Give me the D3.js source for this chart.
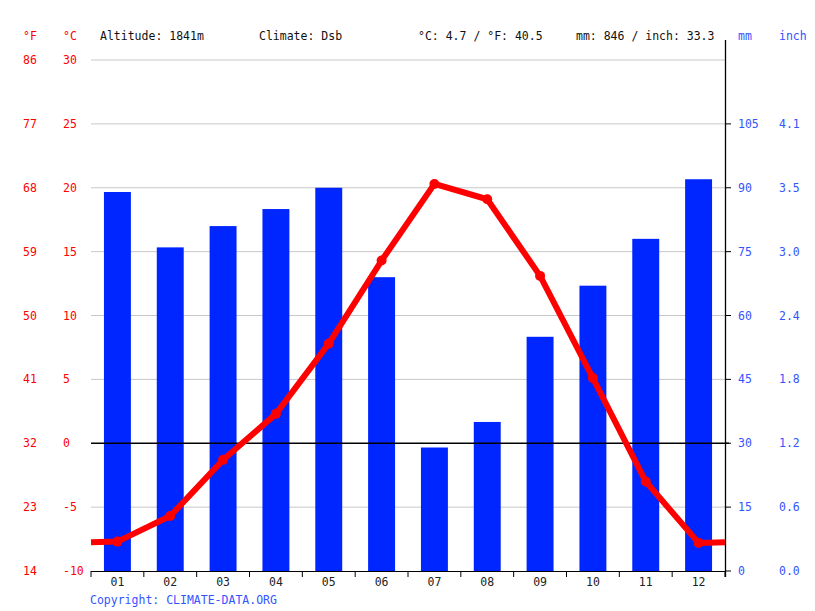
<!DOCTYPE html>
<html>
<head>
<meta charset="utf-8">
<script src="https://cdn.jsdelivr.net/npm/d3@7"></script>
<style>
  body { margin: 0; background: #fff; }
  text { font-family: "DejaVu Sans Mono", monospace; font-size: 11.5px; }
</style>
</head>
<body>
<div id="chart"></div>
<script>
// values
var months = ["01","02","03","04","05","06","07","08","09","10","11","12"];
var precip = [89, 76, 81, 85, 90, 69, 29, 35, 55, 67, 78, 92];          // mm
var temp = [-7.7, -5.7, -1.3, 2.3, 7.8, 14.3, 20.3, 19.1, 13.1, 5.1, -3.0, -7.8]; // °C
var edgeTemp = -7.75; // line runs out to both edges (Dec -> Jan)

var cTicks = [-10, -5, 0, 5, 10, 15, 20, 25, 30];
var fLabels = ["14","23","32","41","50","59","68","77","86"];
var mmTicks = [0, 15, 30, 45, 60, 75, 90, 105];
var inchLabels = ["0.0","0.6","1.2","1.8","2.4","3.0","3.5","4.1"];

var header = [
  {t: "Altitude: 1841m", x: 100},
  {t: "Climate: Dsb", x: 259},
  {t: "°C: 4.7 / °F: 40.5", x: 418},
  {t: "mm: 846 / inch: 33.3", x: 576}
];

var W = 815, H = 611;
var pLeft = 91, pRight = 725, pTop = 60, pBottom = 571;
var red = "#ff0000", blue = "#0026ff", blueTxt = "#3355ff";

var svg = d3.select("#chart").append("svg")
  .attr("width", W).attr("height", H);

var x = d3.scaleBand().domain(months).range([pLeft, pRight])
  .paddingInner(0.49).paddingOuter(0.245);
var yT = d3.scaleLinear().domain([-10, 30]).range([pBottom, pTop]);
var yP = d3.scaleLinear().domain([0, 120]).range([pBottom, pTop]);

// grid lines
svg.append("g").selectAll("line")
  .data(cTicks.filter(function(d){ return d != -10 && d != 0; }))
  .enter().append("line")
  .attr("x1", pLeft).attr("x2", pRight)
  .attr("y1", function(d){ return yT(d); }).attr("y2", function(d){ return yT(d); })
  .attr("stroke", "#c8c8c8").attr("stroke-width", 1);

// bars
svg.append("g").selectAll("rect")
  .data(precip).enter().append("rect")
  .attr("x", function(d,i){ return x(months[i]); })
  .attr("width", x.bandwidth())
  .attr("y", function(d){ return yP(d); })
  .attr("height", function(d){ return yP(0) - yP(d); })
  .attr("fill", blue);

// zero line
svg.append("line")
  .attr("x1", pLeft).attr("x2", pRight + 4)
  .attr("y1", yT(0)).attr("y2", yT(0))
  .attr("stroke", "#000").attr("stroke-width", 1.3);

// bottom axis
var xAxis = svg.append("g");
xAxis.append("line")
  .attr("x1", pLeft).attr("x2", pRight)
  .attr("y1", pBottom + 0.5).attr("y2", pBottom + 0.5)
  .attr("stroke", "#000");
var bounds = months.map(function(m){ return x(m) - x.step()*x.paddingInner()/2; });
bounds.push(pRight);
xAxis.selectAll(".tk").data(bounds).enter().append("line")
  .attr("x1", function(d){ return d; }).attr("x2", function(d){ return d; })
  .attr("y1", pBottom).attr("y2", pBottom + 6)
  .attr("stroke", "#000");
xAxis.selectAll("text").data(months).enter().append("text")
  .attr("x", function(d){ return x(d) + x.bandwidth()/2; })
  .attr("y", pBottom + 15)
  .attr("text-anchor", "middle")
  .attr("fill", "#222")
  .text(function(d){ return d; });

// right axis
var rAxis = svg.append("g");
rAxis.append("line")
  .attr("x1", pRight + 0.5).attr("x2", pRight + 0.5)
  .attr("y1", 40).attr("y2", pBottom + 6)
  .attr("stroke", "#000").attr("stroke-width", 1.3);
rAxis.selectAll(".tk").data(mmTicks).enter().append("line")
  .attr("x1", pRight).attr("x2", pRight + 6)
  .attr("y1", function(d){ return yP(d); }).attr("y2", function(d){ return yP(d); })
  .attr("stroke", "#000");
rAxis.selectAll(".mm").data(mmTicks).enter().append("text")
  .attr("x", 738).attr("y", function(d){ return yP(d); })
  .attr("dy", "0.35em").attr("fill", blueTxt)
  .text(function(d){ return d; });
rAxis.selectAll(".in").data(mmTicks).enter().append("text")
  .attr("x", 779).attr("y", function(d){ return yP(d); })
  .attr("dy", "0.35em").attr("fill", blueTxt)
  .text(function(d,i){ return inchLabels[i]; });

// left labels
var lAxis = svg.append("g");
lAxis.selectAll(".c").data(cTicks).enter().append("text")
  .attr("x", 63).attr("y", function(d){ return yT(d); })
  .attr("dy", "0.35em").attr("fill", red)
  .text(function(d){ return d; });
lAxis.selectAll(".f").data(cTicks).enter().append("text")
  .attr("x", 23).attr("y", function(d){ return yT(d); })
  .attr("dy", "0.35em").attr("fill", red)
  .text(function(d,i){ return fLabels[i]; });

// temperature line
var pts = [{x: pLeft, t: edgeTemp}];
temp.forEach(function(t,i){ pts.push({x: x(months[i]) + x.bandwidth()/2, t: t}); });
pts.push({x: pRight, t: edgeTemp});

var line = d3.line()
  .x(function(d){ return d.x; })
  .y(function(d){ return yT(d.t); });

svg.append("path")
  .datum(pts)
  .attr("fill", "none")
  .attr("stroke", red)
  .attr("stroke-width", 6)
  .attr("stroke-linejoin", "round")
  .attr("d", line);

svg.append("g").selectAll("circle")
  .data(temp).enter().append("circle")
  .attr("cx", function(d,i){ return x(months[i]) + x.bandwidth()/2; })
  .attr("cy", function(d){ return yT(d); })
  .attr("r", 5)
  .attr("fill", red);

// header
svg.append("text").attr("x", 23).attr("y", 36).attr("dy", "0.35em").attr("fill", red).text("°F");
svg.append("text").attr("x", 63).attr("y", 36).attr("dy", "0.35em").attr("fill", red).text("°C");
svg.append("text").attr("x", 738).attr("y", 36).attr("dy", "0.35em").attr("fill", blueTxt).text("mm");
svg.append("text").attr("x", 779).attr("y", 36).attr("dy", "0.35em").attr("fill", blueTxt).text("inch");
svg.selectAll(".hd").data(header).enter().append("text")
  .attr("x", function(d){ return d.x; }).attr("y", 36).attr("dy", "0.35em")
  .attr("fill", "#111")
  .text(function(d){ return d.t; });

svg.append("text").attr("x", 90).attr("y", 600).attr("dy", "0.35em")
  .attr("fill", blueTxt).text("Copyright: CLIMATE-DATA.ORG");
</script>
</body>
</html>
